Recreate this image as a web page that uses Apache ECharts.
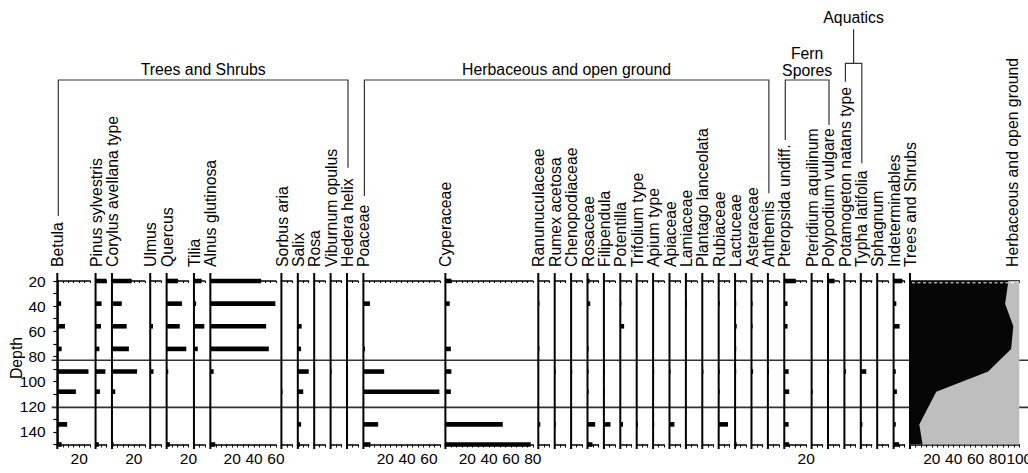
<!DOCTYPE html>
<html>
<head>
<meta charset="utf-8">
<script src="https://cdn.jsdelivr.net/npm/echarts@6/dist/echarts.min.js"></script>
<style>
  html, body { margin: 0; padding: 0; background: #fff; }
  #chart { width: 1028px; height: 473px; }
</style>
</head>
<body>
<div id="chart"></div>
<script>
// Sample depths (cm) and zone boundaries
const depths = [20, 38, 56, 74, 92, 108, 134, 150];
const zoneDepths = [83, 120.5];

// Percentages per taxon, one value per sample depth
const betula          = [0, 3.5, 7, 4, 28.5, 17, 9, 4];
const pinus           = [10, 5.5, 5, 3.5, 9, 4, 0, 3];
const corylus         = [18, 9, 13.5, 15.5, 23, 3, 0, 1.5];
const ulmus           = [0, 0, 2.5, 0, 3, 0, 0, 0];
const quercus         = [10.5, 14, 12, 18, 1.5, 0, 0, 3];
const tilia           = [7, 2, 9.5, 3.5, 0, 0, 0, 0];
const alnus           = [46.5, 59.5, 51, 53.5, 3, 0, 0, 4.5];
const sorbus          = [0, 0, 0, 0, 0, 1, 0, 0];
const salix           = [0, 0, 3.5, 3, 10, 5, 3, 2];
const rosa            = [0, 0, 0, 0, 0, 0, 0, 0.5];
const viburnum        = [0, 0, 0, 0, 1, 0, 0, 0];
const hedera          = [0, 1, 0, 0, 0, 0, 0, 0];
const poaceae         = [0, 6, 0, 1.5, 19, 69.5, 13.5, 6.5];
const cyperaceae      = [5.5, 4, 0, 5, 5.5, 5, 52.5, 78];
const ranunculaceae   = [0, 1, 0, 1, 0, 0, 1.8, 0];
const rumex           = [0, 0, 0, 0, 1, 0, 1, 0];
const chenopodiaceae  = [0, 0, 0, 0, 1, 0, 0, 0];
const rosaceae        = [2, 2.5, 0, 1, 1, 1, 7, 4.5];
const filipendula     = [0, 0, 0, 0, 1, 1, 6, 0];
const potentilla      = [0, 1, 3.5, 0, 0, 0, 2.5, 0];
const trifolium       = [0, 0, 0, 0, 0, 0, 1, 0];
const apium           = [0, 0, 0, 0, 1, 0, 1, 0];
const apiaceae        = [0, 0, 0, 0, 1, 0, 4.5, 0];
const lamiaceae       = [0, 1, 0, 0, 0, 0, 0, 0];
const plantago        = [0, 0, 0, 0, 1, 0, 0, 0];
const rubiaceae       = [0, 1, 0, 0, 1, 1, 8.5, 0];
const lactuceae       = [0, 1, 1.5, 1, 1, 0, 0, 1.5];
const asteraceae      = [0, 1, 1, 0, 1.5, 0, 0, 0];
const anthemis        = [0, 0, 0, 0, 1, 0, 0, 0];
const pteropsida      = [10.5, 3, 3, 0, 4, 4.5, 4, 4.5];
const pteridium       = [0, 0, 0, 0, 0, 1, 0, 0];
const polypodium      = [6, 0, 0, 0, 1, 0, 0, 0];
const potamogeton     = [0, 0, 0, 0, 1.5, 0, 0, 0];
const typha           = [0, 0, 0, 0, 5, 0, 1.5, 0];
const sphagnum        = [0, 0, 0, 0, 0, 0, 0, 0];
const indeterminables = [8, 2.5, 5.5, 0, 2, 3, 2, 5];

// Cumulative summary: trees and shrubs share of the sum (rest is herbaceous)
const treesShrubs = [90, 87, 94.5, 92.5, 71.5, 24, 8.5, 11.5];

const taxonNames = [
  'Betula', 'Pinus sylvestris', 'Corylus avellana type', 'Ulmus', 'Quercus', 'Tilia',
  'Alnus glutinosa', 'Sorbus aria', 'Salix', 'Rosa', 'Viburnum opulus', 'Hedera helix',
  'Poaceae', 'Cyperaceae', 'Ranunuculaceae', 'Rumex acetosa', 'Chenopodiaceae', 'Rosaceae',
  'Filipendula', 'Potentilla', 'Trifolium type', 'Apium type', 'Apiaceae', 'Lamiaceae',
  'Plantago lanceolata', 'Rubiaceae', 'Lactuceae', 'Asteraceae', 'Anthemis',
  'Pteropsida undiff.', 'Pteridium aquilinum', 'Polypodium vulgare',
  'Potamogeton natans type', 'Typha latifolia', 'Sphagnum', 'Indeterminables'
];
const taxonValues = [
  betula, pinus, corylus, ulmus, quercus, tilia, alnus, sorbus, salix, rosa, viburnum, hedera,
  poaceae, cyperaceae, ranunculaceae, rumex, chenopodiaceae, rosaceae, filipendula, potentilla,
  trifolium, apium, apiaceae, lamiaceae, plantago, rubiaceae, lactuceae, asteraceae, anthemis,
  pteropsida, pteridium, polypodium, potamogeton, typha, sphagnum, indeterminables
];
// Upper limit of each percentage axis
const axisMaxima = [
  30, 10, 30, 10, 20, 10, 60, 10, 10, 10, 10, 10,
  70, 80, 10, 10, 10, 10, 10, 10, 10, 10, 10, 10, 10, 10, 10, 10, 10,
  20, 10, 10, 10, 10, 10, 10
];
const sumNames = ['Trees and Shrubs', 'Herbaceous and open ground'];
const sumMax = 100;

// Group headers: first and last taxon index covered
const groupLabels = ['Trees and Shrubs', 'Herbaceous and open ground', 'Fern\nSpores', 'Aquatics'];
const groupSpans = [[0, 11], [12, 28], [29, 31], [32, 33]];

// ---------- layout ----------
const FONT = '"Liberation Sans", Arial, Helvetica, sans-serif';
const PX = 1.0932;          // pixels per percent unit
const X0 = 57.3;            // left edge of first panel
const GAP = 5;              // gap between panels, in percent units
const TOP = 281, H = 163.5; // plotting band
const LABEL_BASE = 267;     // bottom of rotated taxon names
const dMin = depths[0], dMax = depths[depths.length - 1];

const allMax = axisMaxima.concat([sumMax]);
const panels = [];
let acc = 0;
allMax.forEach(m => {
  panels.push({ left: X0 + PX * acc, width: PX * m, max: m });
  acc += m + GAP;
});
const nP = panels.length;
const sumIdx = nP - 1;

const grid = [], xAxis = [], yAxis = [], series = [];

panels.forEach((p, i) => {
  grid.push({ left: p.left, top: TOP, width: p.width, height: H, outerBoundsMode: 'none' });
  xAxis.push({
    gridIndex: i, type: 'value', min: 0, max: p.max, interval: 5, position: 'bottom',
    axisLine: { show: true, lineStyle: { color: '#000', width: 1.5 } },
    axisTick: { show: true, length: 3, lineStyle: { color: '#000', width: 1 } },
    axisLabel: {
      show: true, margin: 6, fontSize: 15.5, color: '#000', fontFamily: FONT,
      showMinLabel: true, showMaxLabel: true,
      formatter: v => (v > 0 && v % 20 === 0) ? String(v) : ''
    },
    splitLine: { show: false }
  });
  xAxis.push({
    gridIndex: i, type: 'value', min: 0, max: p.max, interval: 5, position: 'top',
    axisLine: { show: true, lineStyle: { color: '#000', width: 1.5 } },
    axisTick: { show: true, inside: true, length: 2, lineStyle: { color: '#000', width: 1 } },
    axisLabel: { show: false },
    splitLine: { show: false }
  });
  const yBase = {
    gridIndex: i, type: 'value', inverse: true, min: dMin, max: dMax, interval: 10,
    splitLine: { show: false }
  };
  if (i === 0) {
    yAxis.push(Object.assign(yBase, {
      offset: 5.6,
      axisLine: { show: true, lineStyle: { color: '#000', width: 1.5 } },
      axisTick: { show: true, length: 4, lineStyle: { color: '#000', width: 1.2 } },
      axisLabel: {
        show: true, margin: 6, fontSize: 15.5, color: '#000', fontFamily: FONT,
        formatter: v => (v % 20 === 0 && v < dMax) ? String(v) : ''
      }
    }));
  } else {
    yAxis.push(Object.assign(yBase, { show: false }));
  }

  // vertical stem of each panel
  series.push({
    type: 'custom', xAxisIndex: 2 * i, yAxisIndex: i, z: 2, clip: false, silent: true,
    data: [[0, dMin]],
    renderItem: (params, api) => {
      const a = api.coord([0, dMin]), b = api.coord([0, dMax]);
      return {
        type: 'line',
        shape: { x1: a[0], y1: a[1] - 8, x2: b[0], y2: b[1] + 4.5 },
        style: { stroke: '#000', lineWidth: 2 }
      };
    }
  });
});

// percentage bars
taxonValues.forEach((vals, i) => {
  series.push({
    type: 'custom', name: taxonNames[i], xAxisIndex: 2 * i, yAxisIndex: i, z: 3, clip: false,
    data: depths.map((d, k) => [vals[k], d]),
    encode: { x: 0, y: 1 },
    renderItem: (params, api) => {
      const v = api.value(0), d = api.value(1);
      if (!v) return null;
      const a = api.coord([0, d]), b = api.coord([v, d]);
      const h = 4.6;
      return {
        type: 'rect',
        shape: { x: a[0], y: a[1] - h / 2, width: b[0] - a[0], height: h },
        style: { fill: '#000' }
      };
    }
  });
});

// summary panel: grey herbaceous share beneath, black trees and shrubs on top
series.push({
  type: 'custom', name: sumNames[0], xAxisIndex: 2 * sumIdx, yAxisIndex: sumIdx, z: 4, clip: false,
  data: depths.map((d, k) => [treesShrubs[k], d]),
  encode: { x: 0, y: 1 },
  renderItem: (params, api) => {
    if (params.dataIndex !== 0) return null;
    const grey = [api.coord([0, dMin]), api.coord([sumMax, dMin]), api.coord([sumMax, dMax]), api.coord([0, dMax])];
    const black = [api.coord([0, dMin])]
      .concat(depths.map((d, k) => api.coord([treesShrubs[k], d])))
      .concat([api.coord([0, dMax])]);
    const t0 = api.coord([0, dMin]), t1 = api.coord([sumMax, dMin]);
    return {
      type: 'group',
      children: [
        { type: 'polygon', shape: { points: grey }, style: { fill: '#bebebe' } },
        { type: 'polygon', shape: { points: black }, style: { fill: '#050505' } },
        { type: 'line', shape: { x1: t0[0] + 2, y1: t0[1] + 1.8, x2: t1[0] - 2, y2: t1[1] + 1.8 },
          style: { stroke: '#fff', lineWidth: 1, lineDash: [3, 2.5] } }
      ]
    };
  }
});

// zone boundaries across the whole diagram
const zi = nP;
grid.push({ left: 51.7, top: TOP, right: 0, height: H, outerBoundsMode: 'none' });
xAxis.push({ gridIndex: zi, type: 'value', min: 0, max: 1, show: false });
yAxis.push({ gridIndex: zi, type: 'value', inverse: true, min: dMin, max: dMax, show: false });
series.push({
  type: 'custom', name: 'zones', xAxisIndex: 2 * nP, yAxisIndex: zi, z: 1, silent: true,
  data: zoneDepths.map(d => [0, d]),
  encode: { x: 0, y: 1 },
  renderItem: (params, api) => {
    const d = api.value(1);
    const a = api.coord([0, d]), b = api.coord([1, d]);
    return {
      type: 'line',
      shape: { x1: a[0], y1: a[1], x2: b[0], y2: b[1] },
      style: { stroke: '#333', lineWidth: 1.6 }
    };
  }
});

// ---------- text and group brackets ----------
const graphic = [];
const vText = (txt, x) => ({
  type: 'text', x: x, y: LABEL_BASE, rotation: Math.PI / 2, silent: true,
  style: { text: txt, fill: '#000', font: '15.8px ' + FONT, align: 'left', verticalAlign: 'middle' }
});
taxonNames.forEach((n, i) => graphic.push(vText(n, panels[i].left + 0.6)));
graphic.push(vText(sumNames[0], panels[sumIdx].left + 0.6));
graphic.push(vText(sumNames[1], panels[sumIdx].left + 103));

graphic.push({
  type: 'text', x: 16, y: 358, rotation: Math.PI / 2, silent: true,
  style: { text: 'Depth', fill: '#000', font: '15.8px ' + FONT, align: 'center', verticalAlign: 'middle' }
});

// bracket geometry: header line height, end heights of left/right legs, label centre height
const bracketShape = [
  { y: 80, yl: 216, yr: 167.7, ty: 69 },
  { y: 80, yl: 196, yr: 193.3, ty: 69 },
  { y: 80, yl: 140, yr: 125, ty: 61.5 },
  { y: 63.3, yl: 81.7, yr: 163.3, ty: 17.3, stem: 29.3 }
];
const lineStyle = { stroke: '#333', lineWidth: 1.2, fill: null };
groupSpans.forEach((span, g) => {
  const s = bracketShape[g];
  const xl = panels[span[0]].left + 1, xr = panels[span[1]].left + 1;
  graphic.push({
    type: 'polyline', silent: true,
    shape: { points: [[xl, s.yl], [xl, s.y], [xr, s.y], [xr, s.yr]] },
    style: lineStyle
  });
  const xm = (xl + xr) / 2;
  if (s.stem) {
    graphic.push({ type: 'line', silent: true, shape: { x1: xm, y1: s.y, x2: xm, y2: s.stem }, style: lineStyle });
  }
  graphic.push({
    type: 'text', x: xm, y: s.ty, silent: true,
    style: { text: groupLabels[g], fill: '#000', font: '15.8px ' + FONT, align: 'center', verticalAlign: 'middle', lineHeight: 17 }
  });
});

const chart = echarts.init(document.getElementById('chart'), null, { renderer: 'svg' });
chart.setOption({
  animation: false,
  backgroundColor: '#fff',
  textStyle: { fontFamily: FONT },
  grid, xAxis, yAxis, series, graphic
});
</script>
</body>
</html>
